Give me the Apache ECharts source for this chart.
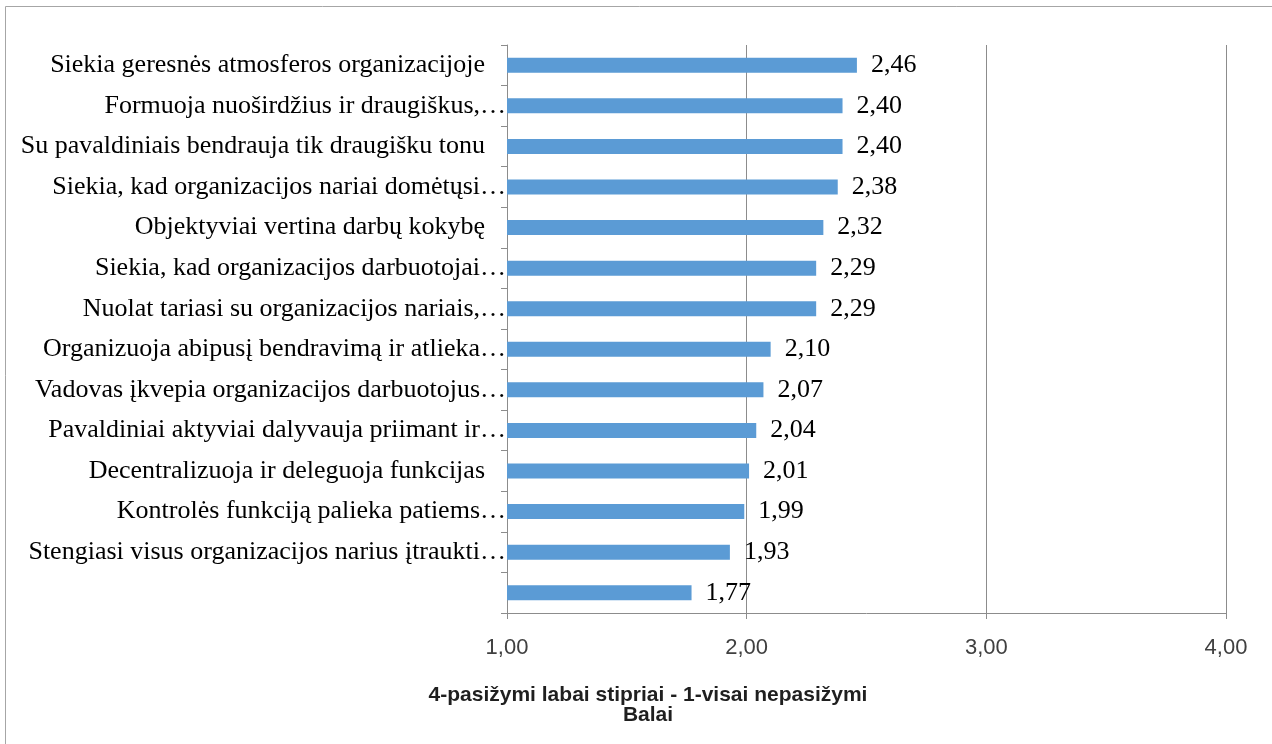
<!DOCTYPE html>
<html>
<head>
<meta charset="utf-8">
<script src="https://cdn.jsdelivr.net/npm/echarts@6/dist/echarts.min.js"></script>
<style>
  html, body { margin: 0; padding: 0; background: #ffffff; }
  #chart { width: 1272px; height: 744px; }
</style>
</head>
<body>
<div id="chart"></div>
<script>
// Leadership behaviour statements (top to bottom), as shown on the axis
const categories = [
  'Siekia geresnės atmosferos organizacijoje',
  'Formuoja nuoširdžius ir draugiškus,…',
  'Su pavaldiniais bendrauja tik draugišku tonu',
  'Siekia, kad organizacijos nariai domėtųsi…',
  'Objektyviai vertina darbų kokybę',
  'Siekia, kad organizacijos darbuotojai…',
  'Nuolat tariasi su organizacijos nariais,…',
  'Organizuoja abipusį bendravimą ir atlieka…',
  'Vadovas įkvepia organizacijos darbuotojus…',
  'Pavaldiniai aktyviai dalyvauja priimant ir…',
  'Decentralizuoja ir deleguoja funkcijas',
  'Kontrolės funkciją palieka patiems…',
  'Stengiasi visus organizacijos narius įtraukti…',
  ''
];

// Mean score per statement (scale 1–4)
const scores = [2.46, 2.40, 2.40, 2.38, 2.32, 2.29, 2.29, 2.10, 2.07, 2.04, 2.01, 1.99, 1.93, 1.77];

// Value axis ticks
const axisTicks = [1, 2, 3, 4];

const axisTitle = '4-pasižymi labai stipriai - 1-visai nepasižymi\nBalai';

const fmt = v => v.toFixed(2).replace('.', ',');

const serif = 'Liberation Serif, Times New Roman, serif';
const sans = 'Liberation Sans, Arial, sans-serif';

const chart = echarts.init(document.getElementById('chart'));
chart.setOption({
  animation: false,
  backgroundColor: '#ffffff',
  graphic: [{
    type: 'rect',
    shape: { x: 5.5, y: 6.5, width: 1300, height: 800 },
    style: { fill: 'none', stroke: '#a6a6a6', lineWidth: 1 },
    silent: true
  }],
  title: {
    text: axisTitle,
    left: 643,
    textAlign: 'center',
    top: 680,
    textStyle: {
      fontFamily: sans,
      fontSize: 21,
      fontWeight: 'bold',
      color: '#1f1f1f',
      lineHeight: 20
    }
  },
  grid: { left: 507, right: 46, top: 45, bottom: 131, containLabel: false },
  xAxis: {
    type: 'value',
    min: axisTicks[0],
    max: axisTicks[axisTicks.length - 1],
    interval: 1,
    axisLine: { show: true, lineStyle: { color: '#8c8c8c', width: 1 } },
    axisTick: { show: true, length: 6, lineStyle: { color: '#8c8c8c' } },
    splitLine: { show: true, lineStyle: { color: '#8c8c8c', width: 1 } },
    axisLabel: {
      margin: 24,
      fontFamily: sans,
      fontSize: 22,
      color: '#404040',
      formatter: v => fmt(v)
    }
  },
  yAxis: {
    type: 'category',
    data: categories,
    inverse: true,
    axisLine: { show: true, lineStyle: { color: '#8c8c8c', width: 1 } },
    axisTick: { show: true, length: 6, lineStyle: { color: '#8c8c8c' } },
    splitLine: { show: false },
    axisLabel: {
      margin: 1,
      fontFamily: serif,
      fontSize: 26,
      color: '#000000',
      formatter: v => v.endsWith('…') ? '{cut|' + v + '}' : '{full|' + v + '}',
      rich: {
        cut: { fontFamily: serif, fontSize: 26, color: '#000000', padding: [0, 0, 0, 0] },
        full: { fontFamily: serif, fontSize: 26, color: '#000000', padding: [0, 21, 0, 0] }
      }
    }
  },
  series: [{
    type: 'bar',
    data: scores,
    barWidth: 15,
    itemStyle: { color: '#5b9bd5' },
    label: {
      show: true,
      position: 'right',
      distance: 14,
      fontFamily: serif,
      fontSize: 26,
      color: '#000000',
      formatter: p => fmt(p.value)
    }
  }]
});
</script>
</body>
</html>
